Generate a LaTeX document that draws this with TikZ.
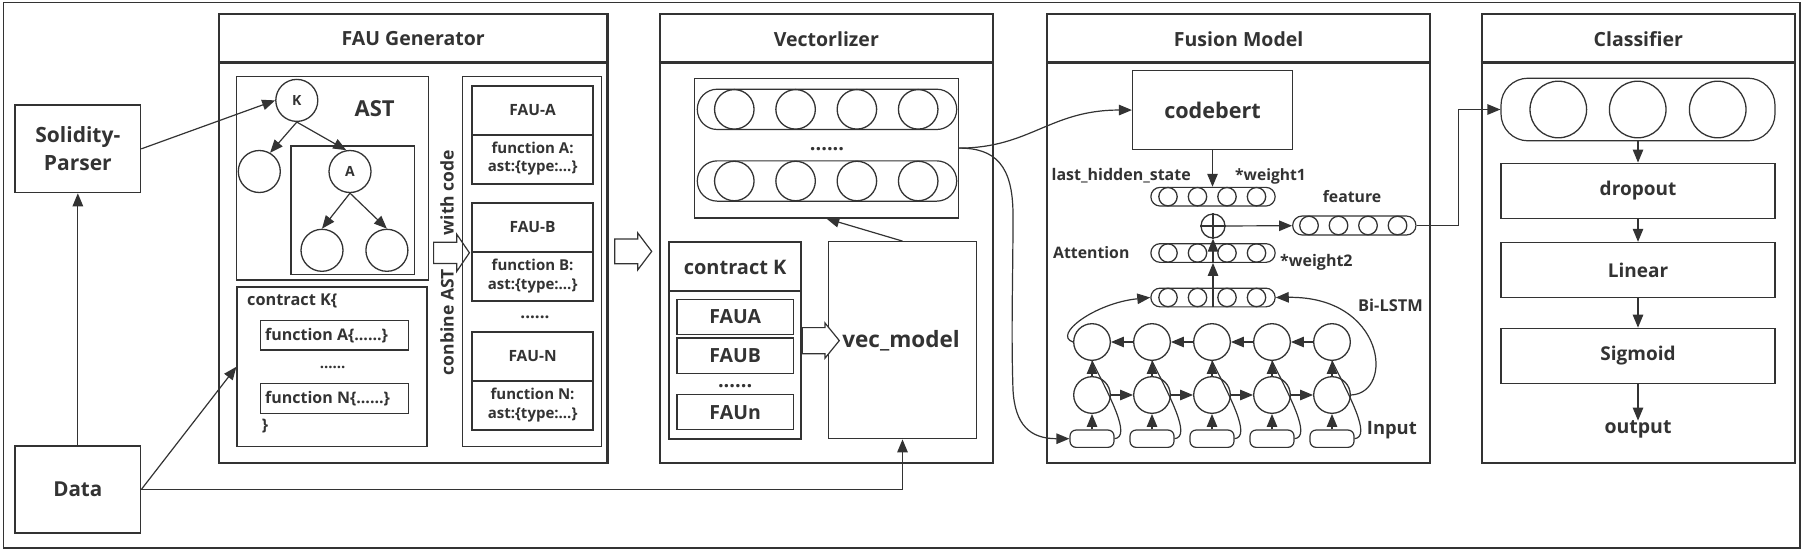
\documentclass[tikz,border=0pt]{standalone}
\usepackage{fontspec}
\setmainfont{Open Sans}
\usetikzlibrary{arrows.meta}
\definecolor{ink}{HTML}{333333}
\begin{document}
\begin{tikzpicture}[x=1pt,y=-1pt,
  every node/.style={text=ink,inner sep=0pt},
  fs/.style={font=\bfseries\fontsize{#1}{#1}\selectfont},
  ln/.style={draw=ink,line width=1.2pt},
  heavy/.style={draw=ink,line width=2.2pt},
  box/.style={ln,rectangle},
  hbox/.style={heavy,rectangle},
  unit/.style={ln,circle,line width=1.3pt},
  bar/.style={ln,rectangle,rounded corners=#1},
  arr/.style={ln,-{Triangle[length=13pt,width=10.5pt]}},
  hollow/.style={ln,fill=white}]
  \fill[white] (0,0) rectangle (1804,552);
  \useasboundingbox (0,0) rectangle (1804,552);
  \draw[ln,line width=1.3pt] (3.3,2.3) rectangle (1800,548);

  % the four modules
  \foreach \n/\cx/\w/\lbl in {fau/413.25/388.5/FAU Generator,vect/826.35/332.7/Vectorlizer,fus/1238.65/382.7/Fusion Model,cls/1638.35/313.3/Classifier}{
    \node[hbox,minimum width=\w,minimum height=448.8] (\n) at (\cx,238.2) {};
    \draw[heavy] ([yshift=-49.8pt]\n.north west) -- ([yshift=-49.8pt]\n.north east);
    \node[fs=19.5] (\n-t) at (\cx,38.7) {\lbl};
  }

  % input side
  \node[box,minimum width=125.7,minimum height=87.7,align=center,font=\bfseries\fontsize{21}{27.7}\selectfont] (parser) at (77.85,148.85) {Solidity-\\Parser};
  \node[box,minimum width=125.7,minimum height=87,fs=20.6] (data) at (77.85,489.5) {Data};

  % AST
  \node[box,minimum width=192,minimum height=203.4] (ast) at (332.6,178.3) {};
  \node[fs=22] (ast-t) at (374.7,109) {AST};
  \node[box,minimum width=123.7,minimum height=128.7] (sub) at (352.85,210.35) {};
  \foreach \n/\x/\y/\txt in {k/296.8/100.4/K,l1/259.3/171.5/,a/350/171.5/A,a1/322/250.3/,a2/386.9/250.3/}
    \node[unit,minimum size=42,fs=14] (\n) at (\x,\y) {\txt};
  \draw[arr] (parser.east) -- (k.west);
  \draw[arr] (k.south) -- (l1.60);
  \draw[arr] (k.south) -- (a.100);
  \draw[arr] (a.south) -- (a1.north);
  \draw[arr] (a.south) -- (a2.north);

  % source code
  \node[box,minimum width=190,minimum height=159.5] (code) at (332,366.75) {};
  \node[fs=16.3,anchor=west] (code-t) at (247,301.3) {contract K\{};
  \node[box,minimum width=148.2,minimum height=29.7] (fA) at (334.3,335.15) {};
  \node[fs=16,anchor=west] (fA-t) at (265,335.15) {function A\{......\}};
  \node[fs=15] (cdots) at (332.6,367) {......};
  \node[box,minimum width=148.2,minimum height=29.8] (fN) at (334.3,398.3) {};
  \node[fs=16,anchor=west] (fN-t) at (265,398.3) {function N\{......\}};
  \node[fs=16] (cend) at (265,426) {\}};
  \draw[arr] (data) -- (parser);
  \draw[arr] (data.east) -- (code.west);

  % FAU list
  \node[fs=17.5,rotate=90] (comb) at (447,262.5) {conbine AST\hspace{34pt}with code};
  \draw[hollow] (433.6,242.2) -- (456.8,242.2) -- (456.8,234.3) -- (469.4,252.8) -- (456.8,271.3) -- (456.8,263.4) -- (433.6,263.4) -- cycle;
  \node[box,minimum width=138.9,minimum height=369.9] (faus) at (531.75,261.5) {};
  \foreach \n/\top/\L in {fa/84.6/A,fb/202.1/B,fn/331.1/N}{
    \node[hbox,line width=2pt,minimum width=120.4,minimum height=98.2,anchor=north] (\n) at (532.6,\top) {};
    \draw[heavy,line width=2pt] ([yshift=-50.2pt]\n.north west) -- ([yshift=-50.2pt]\n.north east);
    \node[fs=15.5] (\n-t) at ([yshift=-25.1pt]\n.north) {FAU-\L};
    \node[align=center,font=\bfseries\fontsize{15}{18.2}\selectfont] (\n-f) at ([yshift=-74pt]\n.north) {function \L:\\ast:\{type:...\}};
  }
  \node[fs=17] (fdots) at (535,317.8) {......};
  \draw[hollow] (614.7,239) -- (637.8,239) -- (637.8,233) -- (651.7,251.4) -- (637.8,269.8) -- (637.8,263.7) -- (614.7,263.7) -- cycle;

  % Vectorlizer
  \node[box,minimum width=264,minimum height=139.6] (vecs) at (826.3,148.1) {};
  \foreach \r/\y in {vr1/109.35,vr2/181}{
    \node[bar=20,minimum width=259.4,minimum height=40.3] (\r) at (827,\y) {};
    \foreach \x [count=\i] in {734.3,795.6,856.9,918.2}
      \node[unit,minimum size=39.5] (\r-\i) at (\x,\y) {};
  }
  \node[fs=20] (vdots) at (827,149) {......};
  \node[hbox,line width=2pt,minimum width=131.7,minimum height=197.1] (ck) at (735.15,340.25) {};
  \draw[heavy,line width=2pt] ([yshift=-49.8pt]ck.north west) -- ([yshift=-49.8pt]ck.north east);
  \node[fs=20] (ck-t) at (735.15,267.7) {contract K};
  \foreach \n/\y/\txt in {u1/317.1/FAUA,u2/355.65/FAUB,u3/412.1/FAUn}{
    \node[box,minimum width=116.3,minimum height=35.2] (\n) at (735.15,\y) {};
    \node[fs=19.5] (\n-t) at (735.15,\y) {\txt};
  }
  \node[fs=20] (ckdots) at (735.15,386.2) {......};
  \node[box,minimum width=148.4,minimum height=197.1] (vm) at (902.5,340.25) {};
  \node[fs=22.5] (vm-t) at (901,340.25) {vec\_model};
  \draw[hollow] (802.3,327.6) -- (825,327.6) -- (825,323) -- (839.3,340.6) -- (825,358.2) -- (825,353.8) -- (802.3,353.8) -- cycle;
  \draw[arr] (vm.north) -- (vecs.south);
  \draw[arr] (data.east) -| (vm.south);

  % Fusion Model
  \node[box,minimum width=160,minimum height=78.9] (cb) at (1212.5,110.05) {};
  \node[fs=21.6] (cb-t) at (1212.5,110) {codebert};
  \foreach \r/\y in {hs/196.7,att/253,bl/297.5}{
    \node[bar=9.3,minimum width=124.3,minimum height=18.7] (\r) at (1213,\y) {};
    \foreach \x [count=\i] in {1168,1197.5,1227,1256.5}
      \node[unit,minimum size=18.4] (\r-\i) at (\x,\y) {};
  }
  \node[bar=9.5,minimum width=123.3,minimum height=19] (feat) at (1354.3,225.5) {};
  \foreach \x [count=\i] in {1309,1338.5,1368,1397.5}
    \node[unit,minimum size=18.6] (feat-\i) at (\x,225.5) {};
  \node[unit,minimum size=24] (plus) at (1213,226) {};
  \draw[ln] (plus.north) -- (plus.south) (plus.west) -- (plus.east);
  \draw[arr] (cb.south) -- (cb.south |- hs.north);
  \draw[arr] (bl.south) -- (att.south);
  \draw[arr] (att.south) -- (plus.south);
  \draw[arr] (plus) -- (feat);
  \node[fs=16,anchor=east] (lhs) at (1191,176) {last\_hidden\_state};
  \node[fs=15.6,anchor=west] (w1) at (1235,176) {*weight1};
  \node[fs=15.8] (ft) at (1352,197) {feature};
  \node[fs=15.8,anchor=west] (attn) at (1053,252.5) {Attention};
  \node[fs=16,anchor=west] (w2) at (1280,262) {*weight2};
  \node[fs=16.4,anchor=west] (bil) at (1358,305) {Bi-LSTM};
  \node[fs=18.4,anchor=west] (inp) at (1366.7,430) {Input};

  % Bi-LSTM cells
  \foreach \i in {1,...,5}{
    \pgfmathsetmacro\cx{1032+60*\i}
    \node[bar=6,minimum width=44,minimum height=17.3] (in\i) at (\cx,438.7) {};
    \node[unit,minimum size=36.6] (fw\i) at (\cx,395) {};
    \node[unit,minimum size=36.6] (bw\i) at (\cx,342) {};
    \draw[arr] (in\i) -- (fw\i);
    \draw[arr] (fw\i) -- (bw\i);
    \draw[ln] (in\i.east) .. controls +(17,-2) and +(18,36) .. (bw\i.south);
  }
  \foreach \i [evaluate=\i as \j using int(\i+1)] in {1,...,4}{
    \draw[arr] (fw\i) -- (fw\j);
    \draw[arr] (bw\j) -- (bw\i);
  }
  \draw[arr] (bw1.west) .. controls (1052,335) and (1095,303) .. (bl.west);
  \draw[arr] (fw5.east) .. controls (1395,393) and (1385,296) .. (bl.east);
  \draw[arr] (vecs.east) .. controls (1030,148) and (1050,110) .. (cb.west);
  \draw[arr] (vecs.east) .. controls (995,148) and (1013,165) .. (1013,215) .. controls (1013,280) and (1011,330) .. (1013,390) .. controls (1015,425) and (1030,438.7) .. (in1.west);

  % Classifier
  \node[bar=27,minimum width=274,minimum height=62.6] (cvec) at (1638,109.5) {};
  \foreach \x [count=\i] in {1558.3,1637.7,1717.7}
    \node[unit,minimum size=56.6] (cvec-\i) at (\x,109.5) {};
  \foreach \n/\y/\txt in {drop/190.65/dropout,lin/269.9/Linear,sig/355.75/Sigmoid}{
    \node[box,minimum width=274,minimum height=55] (\n) at (1638,\y) {};
    \node[fs=19] (\n-t) at (1638,\y) {\txt};
  }
  \node[fs=19.5] (out) at (1638,429.6) {output};
  \draw[arr] (cvec) -- (drop);
  \draw[arr] (drop) -- (lin);
  \draw[arr] (lin) -- (sig);
  \draw[arr] (sig) -- (out);
  \draw[arr] (feat.east) -- ++(42,0) |- (cvec.west);
\end{tikzpicture}
\end{document}
